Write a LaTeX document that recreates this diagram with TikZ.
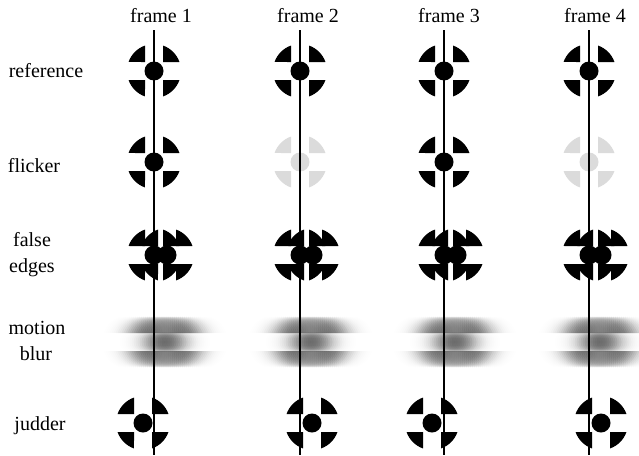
\documentclass[tikz,border=0pt]{standalone}
\usepackage{fontspec}
\setmainfont{Liberation Serif}
\begin{document}
\begin{tikzpicture}[x=1pt,y=-1pt,
  lbl/.style={font=\fontsize{20}{24}\selectfont, inner sep=0pt, anchor=base},
  frameline/.style={line width=2pt, black},
  % circular target: four quarter wedges around a central disc
  pics/target/.style={code={
    \foreach \a in {0,90,180,270}
      \fill[#1,rotate=\a] (9,9) -- (9,25.46) arc[start angle=70.53, end angle=19.47, radius=27] -- cycle;
    \fill[#1] (0,0) circle[radius=9.5];
  }},
  pics/target/.default=black]
\useasboundingbox (0,0) rectangle (639,455);

% column headers
\node[lbl] (h1) at (161,22) {frame 1};
\node[lbl] (h2) at (308,22) {frame 2};
\node[lbl] (h3) at (449,22) {frame 3};
\node[lbl] (h4) at (595,22) {frame 4};

% row labels
\node[lbl] (l1)  at (46,77)  {reference};
\node[lbl] (l2)  at (34,172) {flicker};
\node[lbl] (l3a) at (32,246) {false};
\node[lbl] (l3b) at (32,272) {edges};
\node[lbl] (l4a) at (37,334) {motion};
\node[lbl] (l4b) at (36,360) {blur};
\node[lbl] (l5)  at (40,430) {judder};

\foreach \i/\lx/\jx/\fc in {1/154/-11/black, 2/300/12/black!14, 3/444/-12/black, 4/589/12/black!14} {
  % reference
  \pic at (\lx,71) {target};
  % flicker
  \pic at (\lx,162) {target=\fc};
  % false edges: two overlapping copies
  \pic at (\lx,255) {target};
  \pic at (\lx+13,255) {target};
  % motion blur: weighted horizontal smear
  \foreach \d in {-38,-36,...,38} {
    \pgfmathsetmacro\op{0.095*exp(-(\d*\d)/338)}
    \pgfmathsetmacro\xx{\lx+11+\d}
    \pic[opacity=\op] at (\xx,342) {target};
  }
  % judder
  \pgfmathsetmacro\jj{\lx+\jx}
  \pic at (\jj,423) {target};
  % frame time line
  \coordinate (t\i) at (\lx,30);
  \coordinate (b\i) at (\lx,455);
  \draw[frameline] (t\i) -- (b\i);
}
\end{tikzpicture}
\end{document}
